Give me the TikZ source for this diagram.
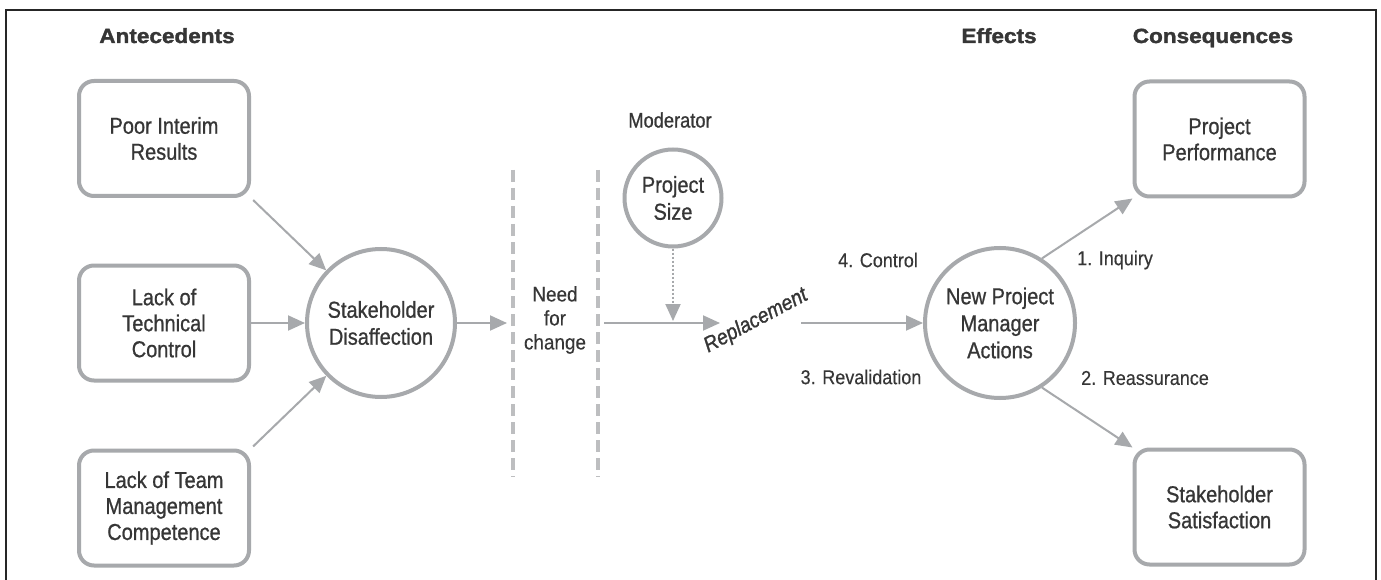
\documentclass[tikz,border=0pt]{standalone}
\usepackage{fontspec}
\setmainfont{Liberation Sans}
\newfontfamily\nodefont{Liberation Sans}[FakeStretch=0.87, FakeBold=0.8]
\newfontfamily\labfont{Liberation Sans}[FakeStretch=0.9, FakeBold=0.3]
\newfontfamily\repfont{Liberation Sans Italic}[FakeStretch=0.9, FakeBold=1.2]
\newfontfamily\headfont{Liberation Sans Bold}[FakeStretch=1.1, FakeBold=1.6]
\usetikzlibrary{arrows.meta}
\definecolor{strokegray}{HTML}{A7A9AC}
\definecolor{dashgray}{HTML}{BDBEC0}
\definecolor{txt}{HTML}{363636}
\tikzset{
  boxnode/.style={draw=strokegray, line width=4pt, rounded corners=15pt, minimum width=170pt, minimum height=115pt, align=center, text=txt, font=\nodefont\fontsize{23}{26}\selectfont, inner sep=0pt},
  circnode/.style={draw=strokegray, line width=4pt, circle, align=center, text=txt, font=\nodefont\fontsize{23}{27}\selectfont, inner sep=0pt},
  headnode/.style={text=txt, font=\headfont\fontsize{20.5}{24}\selectfont, anchor=base},
  labnode/.style={text=txt, font=\labfont\fontsize{20}{24}\selectfont, align=center},
  arr/.style={draw=strokegray, line width=2pt, -{Triangle[length=17pt, width=15pt]}},
  dotarr/.style={draw=strokegray, line width=2pt, dash pattern=on 2pt off 2pt, -{Triangle[length=17pt, width=15pt]}},
  divline/.style={draw=dashgray, line width=3.5pt, dash pattern=on 12pt off 6pt},
}
\begin{document}
\begin{tikzpicture}[x=1pt, y=-1pt]
\useasboundingbox (0,0) rectangle (1381,580);
\fill[white] (0,0) rectangle (1381,580);
% frame
\draw[black!85, line width=2pt] (6,580) -- (6,10) -- (1376,10) -- (1376,580);

% headers
\node[headnode] (hant) at (167,43) {Antecedents};
\node[headnode] (heff) at (999,43) {Effects};
\node[headnode] (hcon) at (1213,43) {Consequences};

% antecedents
\node[boxnode] (poor) at (164,138.5) {Poor Interim\\Results};
\node[boxnode] (tech) at (164,323) {Lack of\\Technical\\Control};
\node[boxnode] (team) at (164,508) {Lack of Team\\Management\\Competence};

% stakeholder disaffection
\node[circnode, minimum size=148pt] (dis) at (381,323) {Stakeholder\\Disaffection};

% dashed dividers
\coordinate (d1a) at (513,170);
\coordinate (d1b) at (513,477);
\coordinate (d2a) at (598,170);
\coordinate (d2b) at (598,477);
\draw[divline] (d1a) -- (d1b);
\draw[divline] (d2a) -- (d2b);
\node[labnode, font=\labfont\fontsize{21}{24}\selectfont] (need) at (555,320) {Need\\for\\change};

% moderator
\node[text=txt, font=\nodefont\fontsize{21}{24}\selectfont] (mod) at (670,120) {Moderator};
\node[circnode, minimum size=97pt] (psize) at (673,198) {Project\\Size};

% replacement
\node[text=txt, font=\repfont\fontsize{21.5}{24}\selectfont, rotate=28] (rep) at (756,321) {Replacement};

% new PM actions
\node[circnode, minimum size=150pt] (npma) at (1000,323) {New Project\\Manager\\Actions};

% consequences
\node[boxnode] (perf) at (1219.5,139) {Project\\Performance};
\node[boxnode] (sat) at (1219.5,507) {Stakeholder\\Satisfaction};

% labels
\node[labnode] (lctrl) at (878,260) {4. Control};
\node[labnode] (lreval) at (861,377) {3. Revalidation};
\node[labnode] (linq) at (1115,260) {1. Inquiry};
\node[labnode] (lreas) at (1145,378) {2. Reassurance};

% connectors
\draw[arr, shorten <=3pt] (poor.south east) -- (dis);
\draw[arr] (tech.east) -- (dis.west);
\draw[arr, shorten <=3pt] (team.north east) -- (dis);

\coordinate (cend) at (507,323);
\draw[arr] (dis.east) -- (cend);

\coordinate (cstart) at (604,323);
\coordinate (repin) at (720,323);
\draw[arr] (cstart) -- (repin);

\coordinate (modend) at (673,321);
\draw[dotarr] (psize.south) -- (modend);

\coordinate (repout) at (801,323);
\draw[arr] (repout) -- (npma.west);

\draw[arr] (npma.57) -- (perf.south west);
\draw[arr] (npma.-57) -- (sat.north west);
\end{tikzpicture}
\end{document}
